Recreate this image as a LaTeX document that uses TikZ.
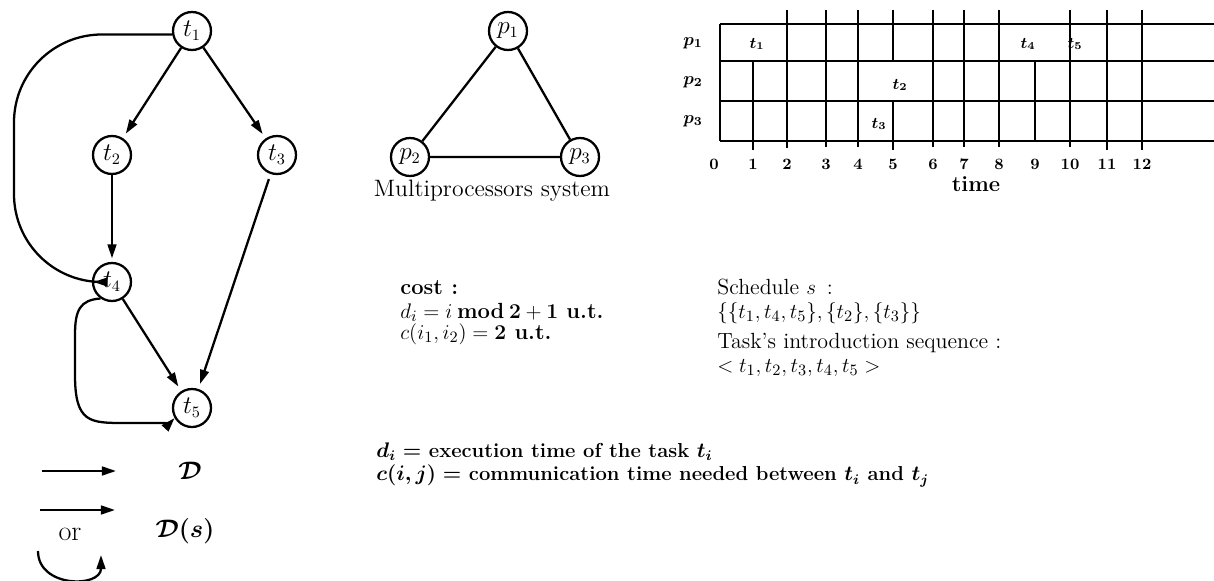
\documentclass[tikz,border=0pt]{standalone}
\usepackage{amsmath}
\usetikzlibrary{arrows.meta}

\begin{document}
\begin{tikzpicture}[
      x=0.02cm, y=-0.02cm,
      font=\fontsize{13.5}{16}\selectfont,
      task/.style={circle, draw, line width=1.3pt, minimum size=0.76cm, inner sep=0pt},
      proc/.style={circle, draw, line width=1.3pt, minimum size=0.76cm, inner sep=0pt},
      arrow/.style={-{Triangle[length=8pt, width=5pt]}, line width=1.3pt},
      link/.style={line width=1.3pt},
      grid/.style={line width=1.5pt},
      txt/.style={anchor=west, inner sep=0pt},
      plain/.style={font=\fontsize{12.5}{14}\selectfont},
      bold/.style={font=\fontsize{12.5}{14}\selectfont\bfseries},
      notes/.style={font=\fontsize{11.5}{13}\selectfont\bfseries\boldmath},
      small/.style={font=\small\bfseries\boldmath}
    ]
    \useasboundingbox (0,0) rectangle (1214,581);

    % task graph
    \node[task] (t1) at (192,31) {$t_1$};
    \node[task] (t2) at (112,155) {$t_2$};
    \node[task] (t3) at (277,155) {$t_3$};
    \node[task] (t4) at (112,282) {$t_4$};
    \node[task] (t5) at (192,408) {$t_5$};

    \draw[arrow, shorten >=3pt] (t1) -- (t2);
    \draw[arrow, shorten >=3pt] (t1) -- (t3);
    \draw[arrow, shorten >=2pt] (t2) -- (t4);
    \draw[arrow, shorten >=3pt, shorten <=3pt] (t3) -- (t5);
    \draw[arrow, shorten >=3pt] (t4) -- (t5);
    \draw[arrow, rounded corners=50, shorten >=1pt] (t1.190) -| (14,282) -- (t4.west);
    \draw[arrow] (t4.235) .. controls (80,300) and (75,310) .. (75,335) -- (75,375)
      .. controls (75,423) and (90,423) .. (125,423) -- (158,423)
      .. controls (170,423) .. (t5.210);

    % legend
    \coordinate (da) at (42,471);
    \coordinate (db) at (116,471);
    \coordinate (sa) at (40,510);
    \coordinate (sb) at (115,510);
    \coordinate (ca) at (38,551);
    \coordinate (cb) at (101,555);
    \draw[arrow] (da) -- (db);
    \draw[arrow] (sa) -- (sb);
    \draw[arrow] (ca) .. controls (38,588) and (101,588) .. (cb);
    \node (dlab) at (190,471) {$\boldsymbol{\mathcal{D}}$};
    \node (slab) at (185,531) {$\boldsymbol{\mathcal{D}(s)}$};
    \node[font=\fontsize{16}{18}\selectfont] (orlab) at (70,534) {or};

    % multiprocessor system
    \node[proc] (p1) at (508,31) {$p_1$};
    \node[proc] (p2) at (410,157) {$p_2$};
    \node[proc] (p3) at (580,157) {$p_3$};
    \draw[link] (p1) -- (p2) -- (p3) -- (p1);
    \node (mps) at (492,191) {Multiprocessors system};

    % gantt chart
    \foreach \y in {24,61,101,141}
      \draw[grid] (720,\y) -- (1214,\y);
    \foreach \x/\ya/\yb in {720/24/141, 753/61/150, 787/10/148, 826/10/147,
        858/10/147, 893/10/61, 893/101/150, 933/10/147, 964/10/147, 999/10/147,
        1035/61/141, 1070/10/147, 1107/10/150, 1142/10/150}
      \draw[grid] (\x,\ya) -- (\x,\yb);
    \foreach \x/\n in {714/0, 753/1, 787/2, 826/3, 858/4, 893/5, 933/6, 964/7,
        999/8, 1035/9, 1070/10, 1107/11, 1142/12}
      \node[small] (n\n) at (\x,164) {\n};
    \node[bold] (time) at (976,184) {time};
    \foreach \i/\y in {1/43, 2/82, 3/121}
      \node[font=\normalsize\boldmath] (r\i) at (693,\y) {$p_\i$};
    \node[small] (g1) at (757,44) {$t_1$};
    \node[small] (g2) at (900,85) {$t_2$};
    \node[small] (g3) at (879,124) {$t_3$};
    \node[small] (g4) at (1028,44) {$t_4$};
    \node[small] (g5) at (1075,44) {$t_5$};

    % costs and schedule
    \node[txt, bold] (cost) at (400,288) {cost :};
    \node[txt, bold] (di) at (400,312) {$d_i = i \mathbin{\textbf{mod}} \mathbf{2} + \mathbf{1}$ u.t.};
    \node[txt, bold] (cij) at (400,334) {$c(i_1,i_2) = \mathbf{2}$ u.t.};
    \node[txt, plain] (sched) at (717,287) {Schedule $s$ \,:};
    \node[txt, plain] (sset) at (717,313) {$\{\{t_1,t_4,t_5\},\{t_2\},\{t_3\}\}$};
    \node[txt, plain] (intro) at (717,343) {Task's introduction sequence :};
    \node[txt, plain] (seq) at (717,368) {$<t_1,t_2,t_3,t_4,t_5>$};
    \node[txt, notes] (ddef) at (376,452) {$d_i =$ execution time of the task $t_i$};
    \node[txt, notes] (cdef) at (376,476) {$c(i,j) =$ communication time needed between $t_i$ and $t_j$};
  \end{tikzpicture}
\end{document}
